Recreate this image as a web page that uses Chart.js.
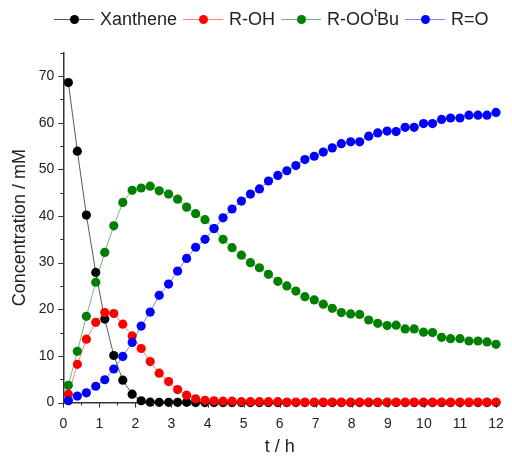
<!DOCTYPE html>
<html>
<head>
<meta charset="utf-8">
<script src="https://cdn.jsdelivr.net/npm/chart.js@4.4.1/dist/chart.umd.min.js"></script>
<style>
    html, body { margin: 0; padding: 0; background: #fff; }
    #wrap { position: relative; width: 512px; height: 456px; }
    #legend {
        position: absolute; top: 8px; left: 54px;
        display: flex; align-items: center;
        font-family: "Liberation Sans", Arial, sans-serif; font-size: 18px; color: #222;
        white-space: nowrap;
    }
    .item { display: flex; align-items: center; margin-right: 6px; }
    .swatch { position: relative; width: 40px; height: 22px; margin-right: 6px; }
    .swatch .ln { position: absolute; left: 0; right: 0; top: 11px; height: 1px; }
    .swatch .dot { position: absolute; left: 16px; top: 7px; width: 9px; height: 9px; border-radius: 50%; }
    sup { font-size: 0.6em; line-height: 0; position: relative; top: -0.1em; }
</style>
</head>
<body>
<div id="wrap">
    <canvas id="chart" width="512" height="456"></canvas>
    <div id="legend"></div>
</div>
<script>
    "use strict";

    // time points (h)
    const times = [0.14, 0.39, 0.64, 0.90, 1.15, 1.40, 1.65, 1.91, 2.16, 2.41, 2.66, 2.92,
        3.17, 3.42, 3.67, 3.93, 4.18, 4.43, 4.68, 4.94, 5.19, 5.44, 5.69, 5.95,
        6.20, 6.45, 6.70, 6.96, 7.21, 7.46, 7.71, 7.97, 8.22, 8.47, 8.72, 8.98,
        9.23, 9.48, 9.73, 9.99, 10.24, 10.49, 10.74, 11.00, 11.25, 11.50, 11.75, 12.00];

    // concentrations (mM)
    const xanthene = [68.6, 53.9, 40.2, 27.9, 17.9, 10.1, 4.8, 1.8, 0.4, 0.1, 0.05, 0.05,
        0.05, 0.05, 0, 0, 0, 0, 0, 0, 0, 0, 0, 0,
        0, 0, 0, 0, 0, 0, 0, 0, 0, 0, 0, 0,
        0, 0, 0, 0, 0, 0, 0, 0, 0, 0, 0, 0];
    const alcohol = [1.8, 8.2, 13.6, 17.2, 19.3, 19.1, 16.8, 14.3, 11.6, 8.8, 6.3, 4.5,
        2.8, 1.6, 0.8, 0.5, 0.4, 0.3, 0.3, 0.2, 0.2, 0.2, 0.2, 0.2,
        0.1, 0.1, 0.1, 0.1, 0.1, 0.1, 0.1, 0.1, 0.1, 0.1, 0.1, 0.1,
        0.1, 0.1, 0.1, 0.1, 0.1, 0.1, 0.1, 0.1, 0.1, 0.1, 0.1, 0.1];
    const peroxide = [3.7, 11.0, 18.5, 25.8, 32.2, 37.9, 42.9, 45.5, 46.0, 46.4, 45.4, 44.7,
        43.6, 41.9, 40.5, 39.2, 37.3, 35.0, 33.2, 31.6, 30.0, 28.9, 27.5, 26.0,
        25.0, 23.9, 22.7, 22.0, 21.1, 20.2, 19.3, 19.0, 18.9, 17.7, 17.0, 16.5,
        16.6, 15.8, 15.8, 15.1, 15.0, 14.0, 13.7, 13.7, 13.2, 13.2, 13.0, 12.5];
    const ketone = [0.4, 1.4, 2.1, 3.5, 4.9, 7.2, 9.9, 12.9, 16.4, 19.4, 23.0, 25.4,
        28.2, 30.9, 33.3, 35.0, 37.3, 39.6, 41.5, 43.2, 44.7, 45.8, 47.5, 48.7,
        49.7, 50.8, 52.1, 52.8, 53.7, 54.6, 55.5, 55.9, 55.9, 57.1, 57.8, 58.2,
        58.1, 59.0, 59.0, 59.8, 59.8, 60.7, 61.0, 61.0, 61.6, 61.6, 61.6, 62.2];

    const seriesNames = ['Xanthene', 'R-OH', 'R-OO<sup>t</sup>Bu', 'R=O'];
    const seriesLabels = ['Xanthene', 'R-OH', 'R-OOᵗBu', 'R=O'];
    const seriesData = [xanthene, alcohol, peroxide, ketone];
    const pointColors = ['#000000', '#ff0000', '#008000', '#0000ff'];
    const lineColors = ['rgba(0,0,0,0.65)', 'rgba(255,0,0,0.5)', 'rgba(0,128,0,0.55)', 'rgba(0,0,255,0.5)'];

    const X_MIN = 0, X_MAX = 12, Y_MIN = 0, Y_MAX = 75;
    const FONT = '"Liberation Sans", Arial, sans-serif';
    const AXIS_COLOR = '#333';

    // outward major/minor ticks like the original plot
    const tickPlugin = {
        id: 'ticks',
        afterDraw: function (chart) {
            const ctx = chart.ctx;
            const xs = chart.scales.x;
            const ys = chart.scales.y;
            ctx.save();
            ctx.strokeStyle = AXIS_COLOR;
            ctx.lineWidth = 1;
            ctx.beginPath();
            for (let v = X_MIN; v <= X_MAX + 1e-9; v += 0.5) {
                const px = Math.round(xs.getPixelForValue(v)) + 0.5;
                const len = (v % 1 === 0) ? 5 : 3;
                ctx.moveTo(px, xs.top);
                ctx.lineTo(px, xs.top + len);
            }
            for (let v = Y_MIN; v <= Y_MAX + 1e-9; v += 5) {
                const py = Math.round(ys.getPixelForValue(v)) + 0.5;
                const len = (v % 10 === 0) ? 5 : 3;
                ctx.moveTo(ys.right, py);
                ctx.lineTo(ys.right - len, py);
            }
            ctx.stroke();
            ctx.restore();
        }
    };

    const datasets = seriesData.map(function (values, i) {
        return {
            label: seriesLabels[i],
            data: values,
            borderColor: lineColors[i],
            borderWidth: 1,
            backgroundColor: pointColors[i],
            pointBackgroundColor: pointColors[i],
            pointBorderWidth: 0,
            pointRadius: 4.6,
            pointHoverRadius: 4.6,
            tension: 0,
            clip: false,
            order: seriesData.length - 1 - i,
        };
    });

    new Chart(document.getElementById('chart'), {
        type: 'line',
        data: { labels: times, datasets: datasets },
        plugins: [tickPlugin],
        options: {
            responsive: false,
            animation: false,
            devicePixelRatio: 1,
            layout: { padding: { top: 52.7, right: 16, bottom: 0, left: 0 } },
            plugins: { legend: { display: false }, tooltip: { enabled: false } },
            scales: {
                x: {
                    type: 'linear',
                    min: X_MIN,
                    max: X_MAX,
                    ticks: { stepSize: 1, padding: 13, maxRotation: 0, color: '#222', font: { family: FONT, size: 14 } },
                    grid: { display: false, drawTicks: false },
                    border: { display: true, color: AXIS_COLOR, width: 1.5 },
                    title: { display: true, text: 't / h', color: '#222', font: { family: FONT, size: 18, lineHeight: 1 }, padding: { top: 0, bottom: 0 } },
                    afterFit: function (scale) {
                        scale.height = 53.4;
                        scale.paddingLeft = 4;
                        scale.paddingRight = 8;
                    },
                },
                y: {
                    min: Y_MIN,
                    max: Y_MAX,
                    ticks: { stepSize: 10, padding: 9, color: '#222', font: { family: FONT, size: 14 } },
                    afterBuildTicks: function (scale) {
                        scale.ticks = scale.ticks.filter(function (t) { return t.value % 10 === 0; });
                    },
                    grid: { display: false, drawTicks: false },
                    border: { display: true, color: AXIS_COLOR, width: 1.5 },
                    title: { display: true, text: 'Concentration / mM', color: '#222', font: { family: FONT, size: 18, lineHeight: 1 }, padding: { top: 11, bottom: 0 } },
                    afterFit: function (scale) { scale.width = 63.3; },
                },
            },
        },
    });

    // legend: line segment with a dot, like the original
    const legend = document.getElementById('legend');
    seriesNames.forEach(function (name, i) {
        const item = document.createElement('div');
        item.className = 'item';
        item.innerHTML = '<span class="swatch"><span class="ln" style="background:' + lineColors[i] + '"></span>' +
            '<span class="dot" style="background:' + pointColors[i] + '"></span></span><span>' + name + '</span>';
        legend.appendChild(item);
    });
</script>
</body>
</html>
